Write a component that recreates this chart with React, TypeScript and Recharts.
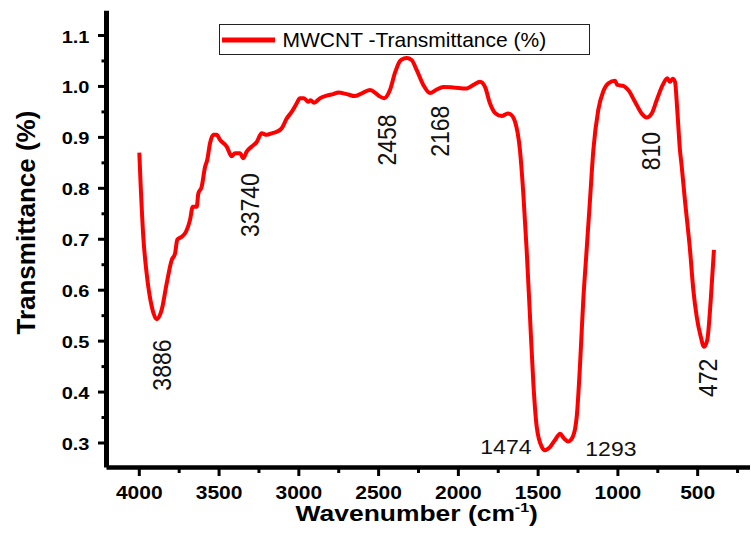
import React from 'react';
import { LineChart, Line, XAxis, YAxis, Legend, ReferenceDot } from 'recharts';

const wavenumbers = [
  4000, 3991, 3975, 3954, 3922, 3891, 3860, 3828, 3797, 3776, 3762, 3734, 3707, 3682, 3665, 3640,
  3630, 3609, 3588, 3574, 3557, 3536, 3515, 3494, 3452, 3421, 3400, 3369, 3348, 3327, 3295, 3264,
  3233, 3201, 3170, 3139, 3107, 3076, 3045, 3013, 2993, 2968, 2941, 2926, 2905, 2867, 2825, 2784,
  2753, 2700, 2648, 2596, 2554, 2523, 2491, 2465, 2429, 2397, 2366, 2340, 2324, 2293, 2261, 2220,
  2178, 2136, 2094, 2032, 1948, 1906, 1864, 1833, 1802, 1770, 1728, 1690, 1676, 1645, 1614, 1593,
  1572, 1551, 1530, 1509, 1478, 1457, 1426, 1394, 1362, 1338, 1311, 1283, 1258, 1238, 1217, 1196,
  1175, 1154, 1123, 1092, 1060, 1018, 1004, 966, 935, 893, 851, 820, 788, 757, 719, 690,
  674, 657, 642, 628, 611, 601, 580, 548, 527, 506, 481, 460, 440, 418, 398,
];
const transmittance = [
  0.870, 0.803, 0.705, 0.633, 0.568, 0.543, 0.561, 0.614, 0.659, 0.672, 0.699, 0.705, 0.715, 0.738, 0.764, 0.764,
  0.790, 0.803, 0.842, 0.856, 0.888, 0.905, 0.905, 0.895, 0.882, 0.863, 0.869, 0.869, 0.859, 0.872, 0.882, 0.891,
  0.908, 0.905, 0.908, 0.911, 0.918, 0.937, 0.950, 0.967, 0.977, 0.977, 0.970, 0.973, 0.968, 0.977, 0.982, 0.985,
  0.988, 0.985, 0.981, 0.988, 0.993, 0.988, 0.980, 0.977, 0.993, 1.027, 1.050, 1.055, 1.056, 1.052, 1.032, 1.003,
  0.987, 0.994, 0.999, 0.998, 0.996, 1.003, 1.009, 0.999, 0.967, 0.948, 0.942, 0.947, 0.946, 0.931, 0.875, 0.790,
  0.679, 0.548, 0.417, 0.332, 0.293, 0.286, 0.292, 0.306, 0.318, 0.309, 0.303, 0.312, 0.352, 0.450, 0.581, 0.679,
  0.777, 0.875, 0.954, 0.990, 1.006, 1.011, 1.003, 1.001, 0.993, 0.970, 0.947, 0.939, 0.947, 0.973, 1.003, 1.016,
  1.009, 1.015, 1.009, 0.954, 0.875, 0.846, 0.777, 0.679, 0.600, 0.548, 0.509, 0.489, 0.502, 0.581, 0.679,
];

const xMajorTicks = [4000, 3500, 3000, 2500, 2000, 1500, 1000, 500];
const xMinorTicks = [3750, 3250, 2750, 2250, 1750, 1250, 750, 250];
const yMajorTicks = [0.3, 0.4, 0.5, 0.6, 0.7, 0.8, 0.9, 1.0, 1.1];
const yMinorTicks = [0.35, 0.45, 0.55, 0.65, 0.75, 0.85, 0.95, 1.05];

const peakWavenumbers = [3858, 3306, 2447, 2115, 794, 436, 1702, 1044];
const peakLevels = [0.453, 0.767, 0.895, 0.912, 0.873, 0.428, 0.292, 0.288];
const peakTexts = ['3886', '33740', '2458', '2168', '810', '472', '1474', '1293'];
const peakRotated = [true, true, true, true, true, true, false, false];

const seriesName = 'MWCNT -Transmittance (%)';
const xTitle = 'Wavenumber (cm';
const xTitleSup = '-1';
const yTitle = 'Transmittance (%)';

const X_DOMAIN: [number, number] = [172, 4205.6];
const Y_DOMAIN: [number, number] = [0.2519, 1.1487];

const FONT = "Arial, 'Liberation Sans', sans-serif";

const data = wavenumbers.map((w, i) => ({ w, t: transmittance[i] }));
const xTicks = [...xMajorTicks, ...xMinorTicks].sort((a, b) => b - a);
const yTicks = [...yMajorTicks, ...yMinorTicks].sort((a, b) => a - b);
const peaks = peakTexts.map((text, i) => ({
  w: peakWavenumbers[i],
  t: peakLevels[i],
  text,
  rotated: peakRotated[i],
}));

const XTick = (props: any) => {
  const { x, y, payload } = props;
  const v = payload.value;
  const major = xMajorTicks.includes(v);
  return (
    <g>
      <line x1={x} x2={x} y1={y} y2={y + (major ? 8.5 : 5.5)} stroke="#000" strokeWidth={3} />
      {major && (
        <g transform={`translate(${x},${y + 31.5}) scale(1.13,1)`}>
          <text x={0} y={0} textAnchor="middle" fontFamily={FONT} fontWeight="bold" fontSize={18.6} fill="#000">
            {v}
          </text>
        </g>
      )}
    </g>
  );
};

const YTick = (props: any) => {
  const { x, y, payload } = props;
  const v = payload.value;
  const major = yMajorTicks.some((m) => Math.abs(m - v) < 1e-6);
  return (
    <g>
      <line x1={x - (major ? 8.5 : 5)} x2={x} y1={y} y2={y} stroke="#000" strokeWidth={3} />
      {major && (
        <g transform={`translate(${x - 17},${y + 7}) scale(1.25,1)`}>
          <text x={0} y={0} textAnchor="end" fontFamily={FONT} fontWeight="bold" fontSize={16} fill="#000">
            {v.toFixed(1)}
          </text>
        </g>
      )}
    </g>
  );
};

const YTitle = (props: any) => {
  const vb = props.viewBox || { x: 0, y: 10.7, width: 106.5, height: 456.8 };
  const cx = vb.x + 35;
  const cy = vb.y + vb.height / 2 - 16.5;
  return (
    <text
      transform={`translate(${cx},${cy}) rotate(-90)`}
      x={0}
      y={0}
      textAnchor="middle"
      fontFamily={FONT}
      fontWeight="bold"
      fontSize={26}
      fill="#000"
    >
      {yTitle}
    </text>
  );
};

const XTitle = (props: any) => {
  const vb = props.viewBox || { x: 106.5, y: 467.5, width: 643.5, height: 78.5 };
  const cx = vb.x + vb.width / 2 - 11.5;
  const by = vb.y + 53;
  return (
    <g transform={`translate(${cx},${by}) scale(1.23,1)`}>
      <text x={0} y={0} textAnchor="middle" fontFamily={FONT} fontWeight="bold" fontSize={21.5} fill="#000">
        <tspan>{xTitle}</tspan>
        <tspan fontSize={13} dy={-9}>{xTitleSup}</tspan>
        <tspan dy={9}>)</tspan>
      </text>
    </g>
  );
};

const LegendBox = () => (
  <div
    style={{
      boxSizing: 'border-box',
      width: 371,
      height: 31,
      border: '1.5px solid #222',
      background: '#fff',
      display: 'flex',
      alignItems: 'center',
      fontFamily: FONT,
      fontSize: 21,
      color: '#000',
      whiteSpace: 'nowrap',
    }}
  >
    <svg width={60} height={10} style={{ display: 'block', marginLeft: 1.5 }}>
      <line x1={0} x2={53} y1={5} y2={5} stroke="#ff0000" strokeWidth={5} />
    </svg>
    <span style={{ marginLeft: 1, lineHeight: '20px' }}>{seriesName}</span>
  </div>
);

const PeakShape = (peak: { text: string; rotated: boolean }) => (props: any) => {
  const { cx, cy } = props;
  if (cx == null || cy == null) return <g />;
  if (peak.rotated) {
    return (
      <g transform={`translate(${cx},${cy}) scale(1.1,1) rotate(-90)`}>
        <text x={0} y={0} textAnchor="middle" dominantBaseline="central" fontFamily={FONT} fontSize={23} fill="#111">
          {peak.text}
        </text>
      </g>
    );
  }
  return (
    <g transform={`translate(${cx},${cy}) scale(1.15,1)`}>
      <text x={0} y={0} textAnchor="middle" dominantBaseline="central" fontFamily={FONT} fontSize={20} fill="#111">
        {peak.text}
      </text>
    </g>
  );
};

export default function App() {
  return (
    <div style={{ position: 'absolute', left: 0, top: 0, width: 751, height: 546, background: '#fff' }}>
      <LineChart
        width={751}
        height={546}
        data={data}
        margin={{ top: 10.7, right: 1, bottom: 0, left: 0 }}
      >
        <XAxis
          xAxisId="top"
          orientation="top"
          dataKey="w"
          type="number"
          domain={X_DOMAIN}
          reversed
          allowDataOverflow
          height={0}
          tick={false}
          tickLine={false}
          axisLine={{ stroke: '#000', strokeWidth: 2 }}
        />
        <YAxis
          yAxisId="right"
          orientation="right"
          type="number"
          domain={Y_DOMAIN}
          allowDataOverflow
          width={0}
          tick={false}
          tickLine={false}
          axisLine={{ stroke: '#000', strokeWidth: 2 }}
        />
        <XAxis
          dataKey="w"
          type="number"
          domain={X_DOMAIN}
          reversed
          allowDataOverflow
          ticks={xTicks}
          interval={0}
          height={78.5}
          tickSize={0}
          tickMargin={0}
          tickLine={false}
          tick={<XTick />}
          axisLine={{ stroke: '#000', strokeWidth: 4.5 }}
          label={<XTitle />}
        />
        <YAxis
          type="number"
          domain={Y_DOMAIN}
          allowDataOverflow
          ticks={yTicks}
          interval={0}
          width={106.5}
          tickSize={0}
          tickMargin={0}
          tickLine={false}
          tick={<YTick />}
          axisLine={{ stroke: '#000', strokeWidth: 5 }}
          label={<YTitle />}
        />
        <Legend
          layout="horizontal"
          verticalAlign="middle"
          align="center"
          wrapperStyle={{ left: 219, top: 24, width: 371, height: 31, margin: 0, padding: 0 }}
          content={() => <LegendBox />}
        />
        <Line
          type="monotone"
          dataKey="t"
          name={seriesName}
          stroke="#ff0000"
          strokeWidth={4}
          dot={false}
          activeDot={false}
          isAnimationActive={false}
        />
        {peaks.map((p) => (
          <ReferenceDot
            key={p.text}
            x={p.w}
            y={p.t}
            r={0}
            ifOverflow="visible"
            shape={PeakShape(p)}
          />
        ))}
      </LineChart>
    </div>
  );
}
